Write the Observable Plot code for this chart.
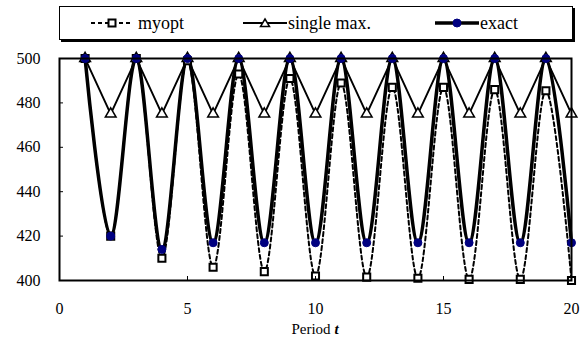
<!DOCTYPE html>
<html>
<head>
<meta charset="utf-8">
<script src="https://cdn.jsdelivr.net/npm/d3@7"></script>
<script src="https://cdn.jsdelivr.net/npm/@observablehq/plot@0.6"></script>
<style>
  body { margin: 0; background: #fff; font-family: "Liberation Serif", "DejaVu Serif", "Times New Roman", Times, serif; }
  #wrap { position: relative; width: 581px; height: 338px; }
  #legend { position: relative; height: 48px; }
  #legend .box { position: absolute; left: 59px; top: 6px; width: 512px; height: 32px;
    border: 1.5px solid #000; box-shadow: 2px 2px 0 #000; background: #fff; }
  #legend .item { position: absolute; top: 0; height: 32px; display: flex; align-items: center; font-size: 18px; color: #000; }
  #legend svg { display: block; }
  #xlabel { position: relative; height: 18px; font-size: 15px; }
  #xlabel span { position: absolute; left: 315px; transform: translateX(-50%); top: 1px; white-space: nowrap; }
</style>
</head>
<body>
<div id="wrap">
  <div id="legend"><div class="box">
    <div class="item" style="left:30px">
      <svg width="44" height="14"><line x1="1" y1="7" x2="43" y2="7" stroke="#000" stroke-width="2" stroke-dasharray="4,3"/><rect x="18.5" y="3.5" width="7" height="7" fill="#fff" stroke="#000" stroke-width="2"/></svg>
      <span style="margin-left:4px">myopt</span></div>
    <div class="item" style="left:183px">
      <svg width="44" height="14"><line x1="0" y1="7" x2="44" y2="7" stroke="#000" stroke-width="1.8"/><path d="M22,3L26.5,10.5L17.5,10.5Z" fill="#fff" stroke="#000" stroke-width="1.5"/></svg>
      <span style="margin-left:1px">single max.</span></div>
    <div class="item" style="left:375px">
      <svg width="44" height="14"><line x1="0" y1="7" x2="44" y2="7" stroke="#000" stroke-width="3.5"/><circle cx="22" cy="7" r="4" fill="#000080" stroke="#000080"/></svg>
      <span style="margin-left:1px">exact</span></div>
  </div></div>
  <div id="chart"></div>
  <div id="xlabel"><span>Period <b><i>t</i></b></span></div>
</div>
<script>
const periods = [1,2,3,4,5,6,7,8,9,10,11,12,13,14,15,16,17,18,19,20];
const myopt = [500,420,500,410,499,406,493,404,491,402,489,401.5,487,401,487,400.5,486,400.5,485.5,400];
const singleMax = [500,475,500,475,500,475,500,475,500,475,500,475,500,475,500,475,500,475,500,475];
const exact = [500,420,500,414,500,417,500,417,500,417,500,417,500,417,500,417,500,417,500,417];
const xTicks = [0,5,10,15,20];
const yTicks = [400,420,440,460,480,500];

const rows = (vals) => periods.map((t, i) => ({t, v: vals[i]}));
const dMy = rows(myopt), dSm = rows(singleMax), dEx = rows(exact);
const font = "'Liberation Serif', 'DejaVu Serif', 'Times New Roman', Times, serif";

const chart = Plot.plot({
  width: 581,
  height: 272,
  marginTop: 10,
  marginBottom: 40,
  marginLeft: 59,
  marginRight: 10,
  style: {fontFamily: font, fontSize: "16px", color: "#000", background: "#fff", overflow: "visible"},
  x: {domain: [0, 20]},
  y: {domain: [400, 500]},
  marks: [
    Plot.line(dMy, {x: "t", y: "v", stroke: "#000", strokeWidth: 2, strokeDasharray: "4,3", curve: "catmull-rom", tension: 0}),
    Plot.line(dSm, {x: "t", y: "v", stroke: "#000", strokeWidth: 1.8}),
    Plot.line(dEx, {x: "t", y: "v", stroke: "#000", strokeWidth: 3.5, curve: "catmull-rom", tension: 0}),
    Plot.dot(dMy, {x: "t", y: "v", symbol: "square", r: 4, fill: "#fff", stroke: "#000", strokeWidth: 2}),
    Plot.dot(dSm, {x: "t", y: "v", symbol: "triangle", r: 4, fill: "#fff", stroke: "#000", strokeWidth: 1.5}),
    Plot.dot(dEx, {x: "t", y: "v", r: 4, fill: "#000080", stroke: "#000080", strokeWidth: 1}),
    Plot.frame({stroke: "#000", strokeWidth: 2}),
    Plot.axisX({ticks: xTicks, tickSize: -4, tickPadding: 26, label: null, tickFormat: d => d}),
    Plot.axisY({ticks: yTicks, tickSize: -4, tickPadding: 23, label: null, tickFormat: d => d})
  ]
});
document.getElementById("chart").appendChild(chart);
</script>
</body>
</html>
